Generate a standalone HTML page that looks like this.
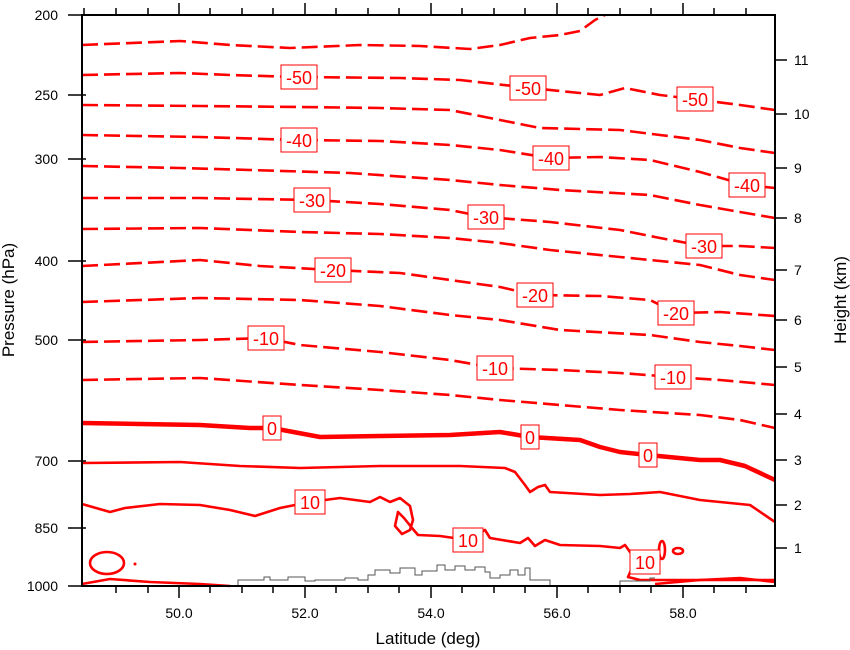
<!DOCTYPE html>
<html><head><style>
body{margin:0;background:#fff}
svg{display:block}
text{font-family:"Liberation Sans",Arial,sans-serif}
</style></head><body>
<svg width="850" height="650" viewBox="0 0 850 650" xmlns="http://www.w3.org/2000/svg">
<g fill="none" stroke="#ff0000" stroke-width="2.6" stroke-dasharray="16,6" stroke-linejoin="round">
<polyline points="82,45 180,41 230,45 290,48 360,45 420,46 470,49 500,45 530,38 560,35 580,31 595,20 605,15"/>
<polyline points="82,75 180,73 230,75 297,77 400,78 460,80 530,88 600,95 625,88 660,95 693,99 740,105 775,110"/>
<polyline points="82,105 200,106 300,107 380,108 450,110 500,120 540,128 620,130 660,135 700,140 740,148 775,153"/>
<polyline points="82,135 200,137 298,140 380,141 450,145 500,150 550,158 600,157 650,160 700,172 746,185 775,188"/>
<polyline points="82,166 180,168 250,170 350,173 450,180 500,185 560,190 650,195 700,205 740,212 775,218"/>
<polyline points="82,198 200,198 312,200 380,204 450,210 485,217 550,222 620,230 660,238 703,246 740,246 775,248"/>
<polyline points="82,229 200,228 300,232 380,234 450,238 500,243 550,250 620,257 700,265 740,275 775,280"/>
<polyline points="82,266 200,260 260,266 333,270 400,273 450,280 500,287 535,295 600,296 650,300 676,313 720,312 775,316"/>
<polyline points="82,302 200,298 300,300 380,306 450,315 500,320 560,330 650,335 700,342 740,346 775,350"/>
<polyline points="82,342 200,340 265,338 300,345 380,352 450,360 495,368 560,370 620,373 673,377 720,380 775,385"/>
<polyline points="82,380 200,378 300,385 380,390 450,395 500,400 560,405 620,410 700,415 740,420 775,428"/>
</g>
<g fill="none" stroke="#ff0000" stroke-linejoin="round">
<polyline stroke-width="4.5" points="82,423 140,424 200,425 250,428 272,428 320,437 380,436 450,435 500,432 530,437 580,440 600,447 620,452 648,455 700,460 720,460 745,466 775,480"/>
<polyline stroke-width="2.6" points="82,463 180,462 240,466 300,468 380,466 460,466 505,468 515,472 525,485 530,492 538,487 545,485 550,492 600,495 630,494 660,492 700,500 750,505 775,522"/>
<polyline stroke-width="2.6" points="82,504 110,512 125,508 160,504 200,505 230,510 255,516 280,508 310,502 340,498 370,502 380,497 390,502 400,498 410,506 413,520 410,530 402,534 395,526 398,512 404,518 412,528 418,535 440,536 468,540 485,530 490,538 520,543 528,538 535,546 545,540 560,545 600,546 620,548 625,545 630,552 645,562 632,568 628,577 640,580 700,580 775,580"/>
<ellipse stroke-width="2.6" cx="107" cy="563" rx="17" ry="11"/>
<ellipse stroke-width="2.6" cx="662" cy="550" rx="3" ry="9"/>
<ellipse stroke-width="2.6" cx="678" cy="551" rx="5" ry="3"/>
<polyline stroke-width="2.6" points="82,584 110,579 150,582 200,584 230,586"/>
<polyline stroke-width="2.6" points="655,584 700,580 740,578 775,582"/>
</g>
<circle cx="135" cy="564" r="1.5" fill="#ff0000"/>
<polyline fill="none" stroke="#555" stroke-width="1" points="238,586 238,580 264,580 264,577 270,577 270,580 288,580 288,577 305,577 305,581 315,581 315,580 345,580 345,578 358,578 358,580 368,580 368,575 375,575 375,570 390,570 390,573 400,573 400,568 415,568 415,575 422,575 422,571 437,571 437,565 445,565 445,570 455,570 455,566 465,566 465,570 475,570 475,567 485,567 485,572 490,572 490,578 500,578 500,575 510,575 510,570 518,570 518,575 525,575 525,568 530,568 530,580 550,580 550,586"/>
<polyline fill="none" stroke="#555" stroke-width="1" points="620,586 620,581 650,581 650,578 655,578"/>
<g font-size="18" fill="#ff0000" text-anchor="middle">
<g stroke="#ff0000" stroke-width="1" fill="#fff">
<rect x="281" y="65" width="36" height="24"/><rect x="510" y="76" width="36" height="24"/><rect x="677" y="87" width="36" height="24"/>
<rect x="281" y="128" width="36" height="24"/><rect x="533" y="146" width="36" height="24"/><rect x="729" y="173" width="36" height="24"/>
<rect x="294" y="188" width="36" height="24"/><rect x="468" y="205" width="36" height="24"/><rect x="686" y="234" width="36" height="24"/>
<rect x="315" y="258" width="36" height="24"/><rect x="517" y="283" width="36" height="24"/><rect x="658" y="301" width="36" height="24"/>
<rect x="248" y="326" width="36" height="24"/><rect x="477" y="356" width="36" height="24"/><rect x="655" y="365" width="36" height="24"/>
<rect x="263" y="416" width="18" height="24"/><rect x="521" y="425" width="18" height="24"/><rect x="639" y="443" width="18" height="24"/>
<rect x="295" y="490" width="30" height="24"/><rect x="453" y="528" width="30" height="24"/><rect x="630" y="550" width="30" height="24"/>
</g>
<text x="299" y="84">-50</text><text x="528" y="95">-50</text><text x="695" y="106">-50</text>
<text x="299" y="147">-40</text><text x="551" y="165">-40</text><text x="747" y="192">-40</text>
<text x="312" y="207">-30</text><text x="486" y="224">-30</text><text x="704" y="253">-30</text>
<text x="333" y="277">-20</text><text x="535" y="302">-20</text><text x="676" y="320">-20</text>
<text x="266" y="345">-10</text><text x="495" y="375">-10</text><text x="673" y="384">-10</text>
<text x="272" y="435">0</text><text x="530" y="444">0</text><text x="648" y="462">0</text>
<text x="310" y="509">10</text><text x="468" y="547">10</text><text x="645" y="569">10</text>
</g>
<rect x="82" y="15" width="693" height="571" fill="none" stroke="#000" stroke-width="2"/>
<g stroke="#000" stroke-width="1.5">
<line x1="116" y1="586" x2="116" y2="593"/><line x1="148" y1="586" x2="148" y2="593"/><line x1="179" y1="586" x2="179" y2="598"/><line x1="210" y1="586" x2="210" y2="593"/><line x1="242" y1="586" x2="242" y2="593"/><line x1="273" y1="586" x2="273" y2="593"/><line x1="305" y1="586" x2="305" y2="598"/><line x1="336" y1="586" x2="336" y2="593"/><line x1="368" y1="586" x2="368" y2="593"/><line x1="399" y1="586" x2="399" y2="593"/><line x1="431" y1="586" x2="431" y2="598"/><line x1="462" y1="586" x2="462" y2="593"/><line x1="494" y1="586" x2="494" y2="593"/><line x1="525" y1="586" x2="525" y2="593"/><line x1="557" y1="586" x2="557" y2="598"/><line x1="588" y1="586" x2="588" y2="593"/><line x1="620" y1="586" x2="620" y2="593"/><line x1="651" y1="586" x2="651" y2="593"/><line x1="683" y1="586" x2="683" y2="598"/><line x1="714" y1="586" x2="714" y2="593"/><line x1="746" y1="586" x2="746" y2="593"/>
<line x1="84" y1="15" x2="84" y2="8"/><line x1="116" y1="15" x2="116" y2="8"/><line x1="148" y1="15" x2="148" y2="8"/><line x1="179" y1="15" x2="179" y2="3"/><line x1="210" y1="15" x2="210" y2="8"/><line x1="242" y1="15" x2="242" y2="8"/><line x1="273" y1="15" x2="273" y2="8"/><line x1="305" y1="15" x2="305" y2="3"/><line x1="336" y1="15" x2="336" y2="8"/><line x1="368" y1="15" x2="368" y2="8"/><line x1="399" y1="15" x2="399" y2="8"/><line x1="431" y1="15" x2="431" y2="3"/><line x1="462" y1="15" x2="462" y2="8"/><line x1="494" y1="15" x2="494" y2="8"/><line x1="525" y1="15" x2="525" y2="8"/><line x1="557" y1="15" x2="557" y2="3"/><line x1="588" y1="15" x2="588" y2="8"/><line x1="620" y1="15" x2="620" y2="8"/><line x1="651" y1="15" x2="651" y2="8"/><line x1="683" y1="15" x2="683" y2="3"/><line x1="714" y1="15" x2="714" y2="8"/><line x1="746" y1="15" x2="746" y2="8"/>
<line x1="68" y1="15" x2="86" y2="15"/><line x1="68" y1="95" x2="86" y2="95"/><line x1="68" y1="159" x2="86" y2="159"/><line x1="68" y1="261" x2="86" y2="261"/><line x1="68" y1="340" x2="86" y2="340"/><line x1="68" y1="461" x2="86" y2="461"/><line x1="68" y1="528" x2="86" y2="528"/><line x1="68" y1="586" x2="86" y2="586"/>
<line x1="775" y1="60" x2="787" y2="60"/><line x1="775" y1="114" x2="787" y2="114"/><line x1="775" y1="168" x2="787" y2="168"/><line x1="775" y1="218" x2="787" y2="218"/><line x1="775" y1="270" x2="787" y2="270"/><line x1="775" y1="320" x2="787" y2="320"/><line x1="775" y1="367" x2="787" y2="367"/><line x1="775" y1="414" x2="787" y2="414"/><line x1="775" y1="460" x2="787" y2="460"/><line x1="775" y1="505" x2="787" y2="505"/><line x1="775" y1="548" x2="787" y2="548"/>
</g>
<g font-size="14" fill="#000" text-anchor="end">
<text x="58" y="20">200</text><text x="58" y="100">250</text><text x="58" y="164">300</text><text x="58" y="266">400</text><text x="58" y="345">500</text><text x="58" y="466">700</text><text x="58" y="533">850</text><text x="58" y="591">1000</text>
</g>
<g font-size="14" fill="#000" text-anchor="start">
<text x="794" y="65">11</text><text x="794" y="119">10</text><text x="794" y="173">9</text><text x="794" y="223">8</text><text x="794" y="275">7</text><text x="794" y="325">6</text><text x="794" y="372">5</text><text x="794" y="419">4</text><text x="794" y="465">3</text><text x="794" y="510">2</text><text x="794" y="553">1</text>
</g>
<g font-size="14" fill="#000" text-anchor="middle">
<text x="179" y="618">50.0</text><text x="305" y="618">52.0</text><text x="431" y="618">54.0</text><text x="557" y="618">56.0</text><text x="683" y="618">58.0</text>
</g>
<text x="428" y="644" font-size="17" text-anchor="middle">Latitude (deg)</text>
<text transform="translate(14,300) rotate(-90)" font-size="17" text-anchor="middle">Pressure (hPa)</text>
<text transform="translate(846,300) rotate(-90)" font-size="17" text-anchor="middle">Height (km)</text>
</svg>
</body></html>
